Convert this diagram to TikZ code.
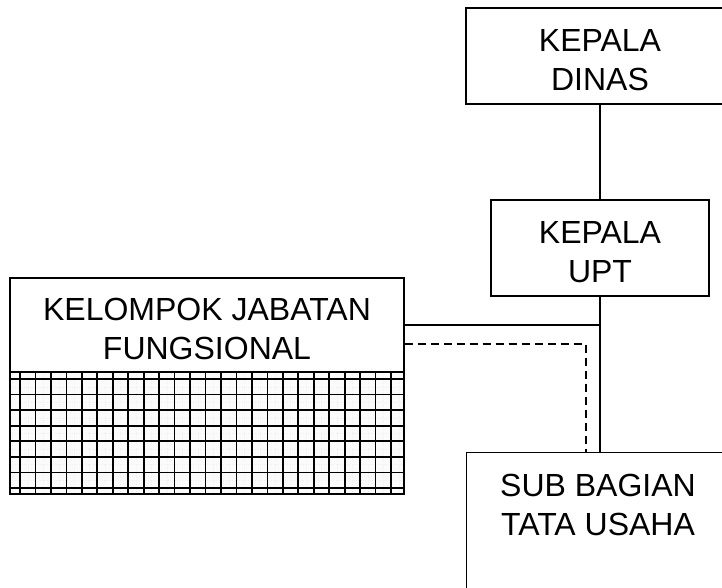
\documentclass[tikz,border=0pt]{standalone}
\usepackage{fontspec}
\setmainfont{Liberation Sans}
\usetikzlibrary{positioning}
\tikzset{
  orgbox/.style={rectangle,draw,line width=1.2bp,inner sep=0pt,align=center,
    font=\fontsize{32bp}{39bp}\selectfont,text height=70bp},
  orgtext/.style={inner sep=0pt,align=center,font=\fontsize{32bp}{39bp}\selectfont},
  link/.style={line width=1.2bp},
  dashlink/.style={line width=1.2bp,dash pattern=on 8bp off 5bp},
  hatchline/.style={line width=1.7bp},
  hatchdot/.style={line width=0.3bp,gray!12,dotted}
}

\begin{document}
\begin{tikzpicture}[x=1bp,y=-1bp]
  \clip (0,0) rectangle (722,588);
  \fill[white] (0,0) rectangle (722,588);
  % boxes (the ones on the right run past the page edge)
  \node[orgbox,minimum width=268bp,minimum height=96bp] (dinas) at (600,56) {KEPALA\\DINAS};
  \node[orgbox,minimum width=218bp,minimum height=96bp] (upt) at (600,248) {KEPALA\\UPT};
  \node[orgbox,minimum width=394bp,minimum height=94bp] (kjf) at (207,325) {KELOMPOK JABATAN\\FUNGSIONAL};
  \node[orgbox,minimum width=268bp,minimum height=160bp,anchor=north west] (sub) at (466,452) {};
  \node[orgtext,anchor=north] (subtxt) at (598,474) {SUB BAGIAN\\TATA USAHA};
  % hatched block under the functional group
  \begin{scope}
    \clip (10,372) rectangle (404,494);
    \fill[gray!3] (10,372) rectangle (404,494);
    \foreach \i in {0,...,25}
      \draw[hatchdot] ({12.3+15.46*\i},372) -- ++(0,122);
    \foreach \j in {0,...,8}
      \draw[hatchdot] (10,{371.2+15.57*\j}) -- ++(394,0);
    \foreach \i in {0,...,24}
      \draw[hatchline] ({20+15.46*\i},372) -- ++(0,122);
    \foreach \j in {0,...,7}
      \draw[hatchline] (10,{379+15.57*\j}) -- ++(394,0);
  \end{scope}
  \draw[link] (10,372) rectangle (404,494);
  % connectors
  \coordinate (djoint) at (586,344);
  \draw[link] (dinas.south) -- (upt.north);
  \draw[link] (upt.south) -- (upt.south |- sub.north);
  \draw[link] (kjf.east) -- (kjf.east -| upt.south);
  \draw[dashlink] (kjf.east |- djoint) -- (djoint) -- (djoint |- sub.north);
\end{tikzpicture}
\end{document}
